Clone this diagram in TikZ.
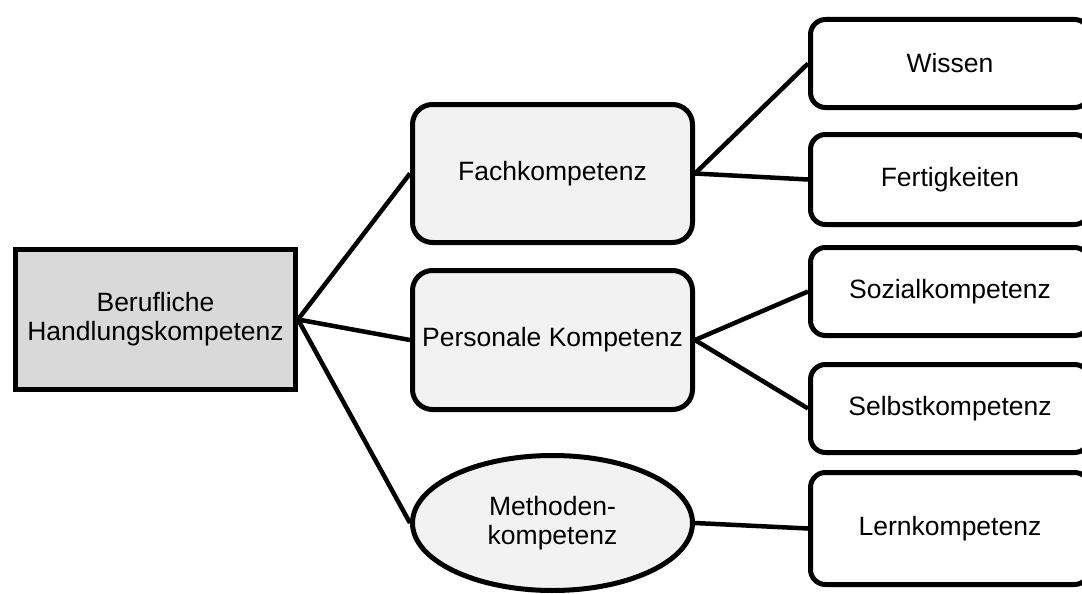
\documentclass[tikz,border=0pt]{standalone}
\usepackage{fontspec}
\setmainfont{Liberation Sans}
\usepackage{tikz}
\usetikzlibrary{shapes}
\usepackage{xcolor}
\definecolor{rootgray}{HTML}{D9D9D9}
\definecolor{midgray}{HTML}{F2F2F2}

\begin{document}
\begin{tikzpicture}[x=1pt, y=-1pt,
  every node/.style={font=\fontsize{26.5}{29}\selectfont, align=center, inner sep=0pt},
  rootbox/.style={draw, line width=5pt, fill=rootgray, minimum width=280pt, minimum height=140pt},
  midbox/.style={draw, line width=5pt, rounded corners=20pt, fill=midgray, minimum width=280pt, minimum height=138pt},
  midoval/.style={draw, ellipse, line width=5pt, fill=midgray, minimum width=280pt, minimum height=135pt},
  leafbox/.style={draw, line width=5pt, rounded corners=15pt, fill=white, minimum width=279pt, minimum height=88pt},
  link/.style={line width=4.5pt}]
\useasboundingbox (0,0) rectangle (1082,594);
\clip (0,0) rectangle (1082,594);
\node[rootbox] (root) at (155.5,319.5) {Berufliche\\Handlungskompetenz};
\node[midbox] (fach) at (552.5,173.5) {Fachkompetenz};
\node[midbox, minimum height=139pt] (pers) at (552.5,340) {Personale Kompetenz};
\node[midoval] (meth) at (552.5,523) {Methoden-\\kompetenz};
\node[leafbox] (wiss) at (950,63.5) {Wissen};
\node[leafbox, minimum height=90pt] (fert) at (950,179.5) {Fertigkeiten};
\node[leafbox] (soz) at (950,291.5) {Sozialkompetenz};
\node[leafbox] (selb) at (950,408.5) {Selbstkompetenz};
\node[leafbox, minimum height=112pt] (lern) at (950,528.5) {Lernkompetenz};
\draw[link] (root.east)--(fach.west);
\draw[link] (root.east)--(pers.west);
\draw[link] (root.east)--(meth.west);
\draw[link] (fach.east)--(wiss.west);
\draw[link] (fach.east)--(fert.west);
\draw[link] (pers.east)--(soz.west);
\draw[link] (pers.east)--(selb.west);
\draw[link] (meth.east)--(lern.west);
\end{tikzpicture}
\end{document}
